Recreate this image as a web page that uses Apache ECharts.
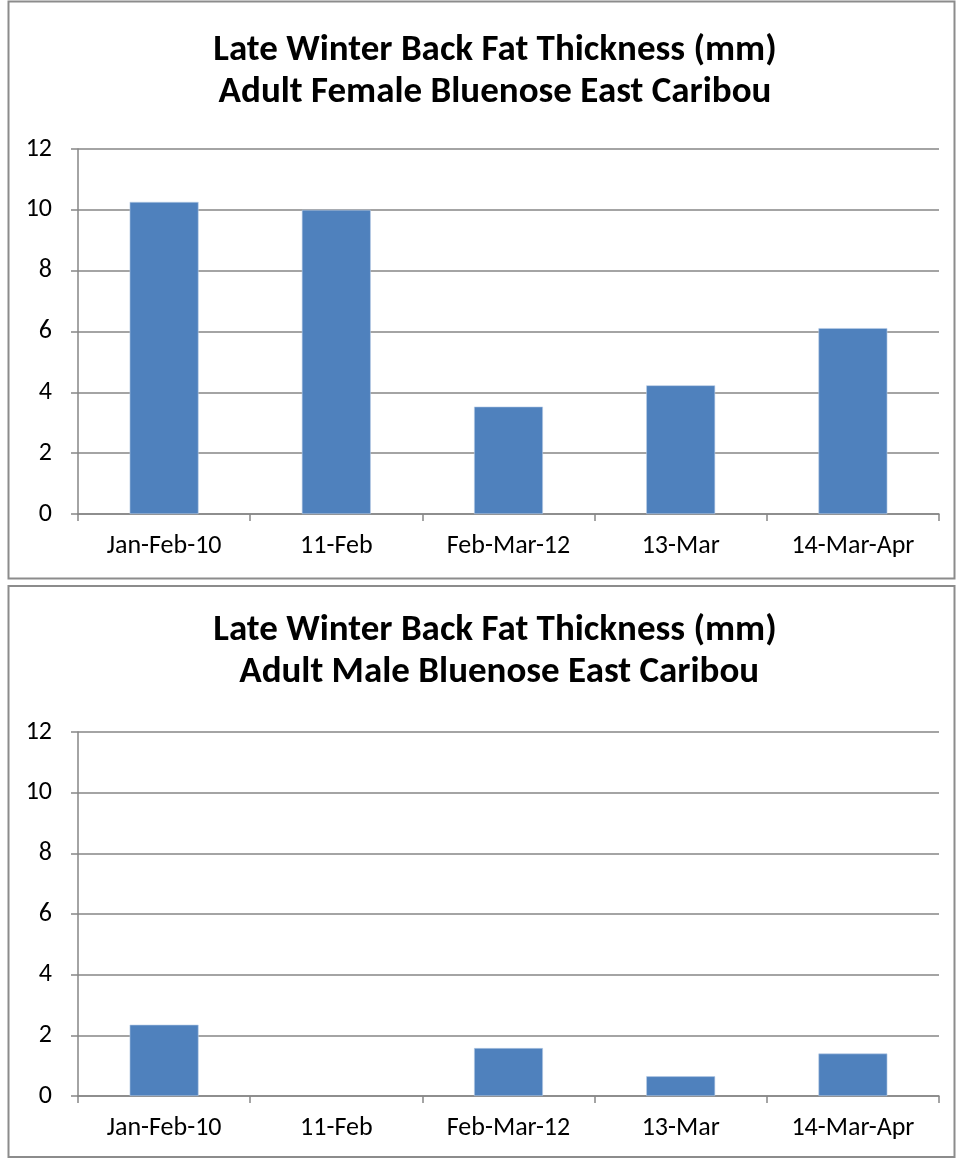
<!DOCTYPE html>
<html>
<head>
<meta charset="utf-8">
<script src="https://cdn.jsdelivr.net/npm/echarts@6/dist/echarts.min.js"></script>
<style>
  html, body { margin: 0; padding: 0; background: #fff; }
  #chart { width: 956px; height: 1158px; }
</style>
</head>
<body>
<div id="chart"></div>
<script>
// values
const categories = ['Jan-Feb-10', '11-Feb', 'Feb-Mar-12', '13-Mar', '14-Mar-Apr']
const femaleFat = [10.26, 10.0, 3.53, 4.23, 6.11]
const maleFat = [2.35, null, 1.58, 0.65, 1.40]
const yTicks = [0, 2, 4, 6, 8, 10, 12]

const femaleTitle = 'Late Winter Back Fat Thickness (mm)\nAdult Female Bluenose East Caribou'
const maleTitle = 'Late Winter Back Fat Thickness (mm)\n Adult Male Bluenose East Caribou'

const font = "Carlito, 'Liberation Sans Narrow', 'Liberation Sans', sans-serif"
const barColor = '#4f81bd'
const gridColor = '#868686'

const chart = echarts.init(document.getElementById('chart'))

const makeX = (gridIndex) => ({
  type: 'category',
  gridIndex,
  data: categories,
  axisLine: { lineStyle: { color: gridColor, width: 1.5 } },
  axisTick: { show: true, length: 7, lineStyle: { color: gridColor, width: 1.5 } },
  axisLabel: { color: '#000', fontSize: 26, fontFamily: font, margin: 19 }
})

const makeY = (gridIndex) => ({
  type: 'value',
  gridIndex,
  min: yTicks[0],
  max: yTicks[yTicks.length - 1],
  interval: 2,
  axisLine: { show: true, lineStyle: { color: gridColor, width: 1.5 } },
  axisTick: { show: true, length: 7, lineStyle: { color: gridColor, width: 1.5 } },
  splitLine: { lineStyle: { color: gridColor, width: 1.5 } },
  axisLabel: { color: '#000', fontSize: 26, fontFamily: font, margin: 26 }
})

const makeBar = (data, idx) => ({
  type: 'bar',
  xAxisIndex: idx,
  yAxisIndex: idx,
  data,
  barWidth: '40%',
  itemStyle: { color: barColor, borderColor: '#b9cde5', borderWidth: 0.6 },
  emphasis: { disabled: true }
})

const titleStyle = {
  fontSize: 37,
  fontWeight: 'bold',
  fontFamily: font,
  color: '#000',
  lineHeight: 42
}

chart.setOption({
  animation: false,
  title: [
    { text: femaleTitle, left: 490, top: 25, textAlign: 'center', textStyle: titleStyle },
    { text: maleTitle, left: 490, top: 605, textAlign: 'center', textStyle: titleStyle }
  ],
  grid: [
    { left: 78, top: 149, right: 17, height: 365 },
    { left: 78, top: 732, right: 17, height: 364 }
  ],
  xAxis: [makeX(0), makeX(1)],
  yAxis: [makeY(0), makeY(1)],
  series: [makeBar(femaleFat, 0), makeBar(maleFat, 1)],
  graphic: [
    { type: 'rect', shape: { x: 8.5, y: 1.5, width: 946, height: 577 }, style: { fill: 'none', stroke: '#8c8c8c', lineWidth: 2 }, silent: true },
    { type: 'rect', shape: { x: 8.5, y: 586, width: 946, height: 571 }, style: { fill: 'none', stroke: '#8c8c8c', lineWidth: 2 }, silent: true }
  ]
})
</script>
</body>
</html>
